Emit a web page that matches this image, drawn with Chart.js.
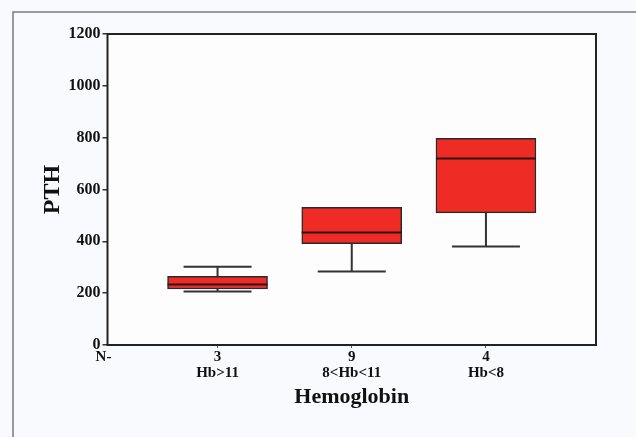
<!DOCTYPE html>
<html>
<head>
<meta charset="utf-8">
<script src="https://cdn.jsdelivr.net/npm/chart.js@4/dist/chart.umd.min.js"></script>
<style>
  html, body { margin: 0; padding: 0; background: #f9fafd; }
  canvas { display: block; }
</style>
</head>
<body>
<canvas id="c" width="636" height="437"></canvas>
<script>
// ---- data ----
const groups = ['Hb>11', '8<Hb<11', 'Hb<8'];
const counts = ['3', '9', '4'];
const positions = [1, 2, 3];
const whiskerMin = [206, 284, 380];
const q1 = [216, 391, 510];
const median = [233, 434, 720];
const q3 = [265, 531, 797];
const whiskerMax = [302, 531, 797];
const yTicks = [0, 200, 400, 600, 800, 1000, 1200];
const nLabel = 'N-';

const X_MIN = 0.18, X_MAX = 3.82, N_POS = 0.15;
const SERIF = '"Liberation Serif", "DejaVu Serif", serif';

const boxPlugin = {
  id: 'boxParts',
  beforeDraw(chart) {
    const ctx = chart.ctx;
    ctx.save();
    ctx.fillStyle = '#f9fafd';
    ctx.fillRect(0, 0, chart.width, chart.height);
    ctx.strokeStyle = '#7a7a7a';
    ctx.lineWidth = 1.5;
    ctx.strokeRect(13, 12, chart.width + 20, chart.height + 20);
    const a = chart.chartArea;
    ctx.fillStyle = '#fdfdfe';
    ctx.fillRect(a.left, a.top, a.right - a.left, a.bottom - a.top);
    ctx.restore();
  },
  beforeDatasetsDraw(chart) {
    const ctx = chart.ctx, xs = chart.scales.x, ys = chart.scales.y;
    ctx.save();
    ctx.strokeStyle = '#333';
    ctx.lineWidth = 2;
    for (let i = 0; i < positions.length; i++) {
      const px = xs.getPixelForValue(positions[i]);
      const half = 34;
      ctx.beginPath();
      if (whiskerMax[i] > q3[i]) {
        const yMax = ys.getPixelForValue(whiskerMax[i]);
        const yQ3 = ys.getPixelForValue(q3[i]);
        ctx.moveTo(px, yQ3); ctx.lineTo(px, yMax);
        ctx.moveTo(px - half, yMax); ctx.lineTo(px + half, yMax);
      }
      if (whiskerMin[i] < q1[i]) {
        const yQ1 = ys.getPixelForValue(q1[i]);
        const yMin = ys.getPixelForValue(whiskerMin[i]);
        ctx.moveTo(px, yQ1); ctx.lineTo(px, yMin);
        ctx.moveTo(px - half, yMin); ctx.lineTo(px + half, yMin);
      }
      ctx.stroke();
    }
    ctx.restore();
  },
  afterDatasetsDraw(chart) {
    const ctx = chart.ctx, xs = chart.scales.x, ys = chart.scales.y;
    ctx.save();
    ctx.strokeStyle = '#2a1414';
    ctx.lineWidth = 2;
    for (let i = 0; i < positions.length; i++) {
      const px = xs.getPixelForValue(positions[i]);
      const ym = ys.getPixelForValue(median[i]);
      ctx.beginPath();
      ctx.moveTo(px - 50, ym); ctx.lineTo(px + 50, ym);
      ctx.stroke();
    }
    const a = chart.chartArea;
    ctx.strokeStyle = '#222';
    ctx.lineWidth = 2;
    ctx.strokeRect(a.left, a.top, a.right - a.left, a.bottom - a.top);
    ctx.restore();
  }
};

new Chart(document.getElementById('c'), {
  type: 'bar',
  data: {
    datasets: [{
      label: 'PTH',
      data: positions.map((p, i) => ({ x: p, y: [q1[i], q3[i]] })),
      backgroundColor: '#ee2b24',
      borderColor: '#2a2a2a',
      borderWidth: 1.5,
      borderSkipped: false,
      barThickness: 100
    }]
  },
  options: {
    responsive: false,
    animation: false,
    layout: { padding: { left: 34, right: 40, top: 34, bottom: 22 } },
    plugins: { legend: { display: false }, tooltip: { enabled: false } },
    scales: {
      x: {
        type: 'linear',
        offset: false,
        min: X_MIN,
        max: X_MAX,
        afterBuildTicks(scale) {
          scale.ticks = [{ value: N_POS }].concat(positions.map(v => ({ value: v })));
        },
        afterFit(scale) { scale.height = 70; },
        border: { display: false },
        grid: {
          offset: false,
          drawOnChartArea: false,
          drawTicks: true,
          tickLength: 3,
          color: (c) => (c.index === 0 ? 'rgba(0,0,0,0)' : '#555'),
          lineWidth: 1
        },
        ticks: {
          autoSkip: false,
          maxRotation: 0,
          padding: 1,
          color: '#111',
          font: { family: SERIF, size: 15, weight: 'bold', lineHeight: 1.07 },
          callback(value, index) {
            if (index === 0) return nLabel;
            return [counts[index - 1], groups[index - 1]];
          }
        },
        title: {
          display: true,
          text: 'Hemoglobin',
          color: '#111',
          font: { family: SERIF, size: 22, weight: 'bold' }
        }
      },
      y: {
        min: 0,
        max: 1200,
        afterBuildTicks(scale) {
          scale.ticks = yTicks.map(v => ({ value: v }));
        },
        afterFit(scale) { scale.width = 73.5; },
        border: { display: false },
        grid: {
          drawOnChartArea: false,
          drawTicks: true,
          tickLength: 5,
          color: '#333',
          lineWidth: 1.5
        },
        ticks: {
          padding: 2,
          color: '#111',
          font: { family: SERIF, size: 16, weight: 'bold' },
          callback(value) { return String(value); }
        },
        title: {
          display: true,
          text: 'PTH',
          color: '#111',
          font: { family: SERIF, size: 24, weight: 'bold' }
        }
      }
    }
  },
  plugins: [boxPlugin]
});
</script>
</body>
</html>
